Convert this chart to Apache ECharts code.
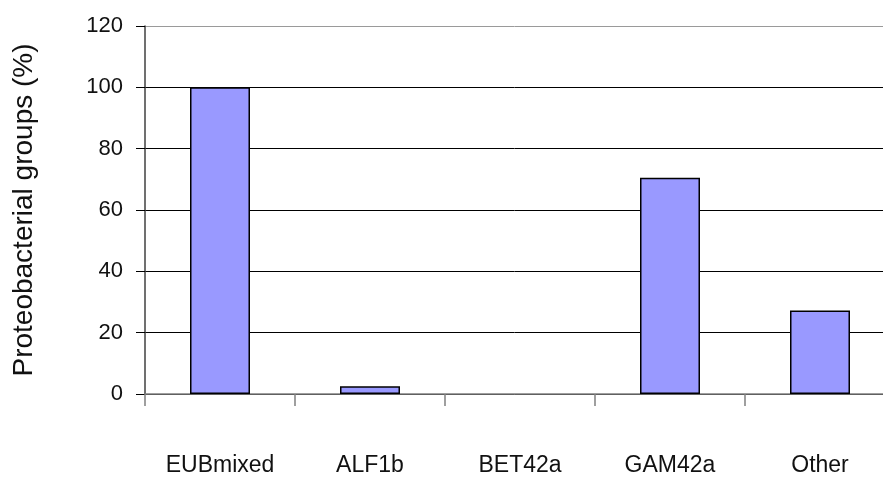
<!DOCTYPE html>
<html>
<head>
<meta charset="utf-8">
<script src="https://cdn.jsdelivr.net/npm/echarts@6/dist/echarts.min.js"></script>
<style>
html,body{margin:0;padding:0;background:#fff;}
#chart{width:883px;height:477px;}
</style>
</head>
<body>
<div id="chart"></div>
<script>
// Probe groups and their share of proteobacterial cells
const categories = ['EUBmixed', 'ALF1b', 'BET42a', 'GAM42a', 'Other'];
const groupPercent = [100, 2.5, 0, 70.5, 27.2];
const yTicks = [0, 20, 40, 60, 80, 100, 120];

const FONT = 'Liberation Sans, Arial, sans-serif';

// Empty groups get no outline so nothing is drawn on the baseline
const barData = groupPercent.map(v => ({
  value: v,
  itemStyle: v === 0 ? { borderWidth: 0, opacity: 0 } : undefined
}));

const chart = echarts.init(document.getElementById('chart'));
chart.setOption({
  animation: false,
  backgroundColor: '#ffffff',
  grid: {
    left: 145, width: 750, top: 26, bottom: 83,
    containLabel: false, outerBoundsMode: 'none'
  },
  xAxis: {
    type: 'category',
    data: categories,
    axisLine: { show: true, lineStyle: { color: '#808080', width: 1.5 } },
    axisTick: { show: true, alignWithLabel: false, length: 12, lineStyle: { color: '#808080', width: 1.5 } },
    axisLabel: { margin: 60, color: '#111', fontFamily: FONT, fontSize: 23 }
  },
  yAxis: {
    type: 'value',
    min: yTicks[0],
    max: yTicks[yTicks.length - 1],
    interval: 20,
    name: 'Proteobacterial groups (%)',
    nameLocation: 'middle',
    nameGap: 107,
    nameRotate: 90,
    nameTextStyle: { color: '#111', fontFamily: FONT, fontSize: 28 },
    axisLine: { show: true, lineStyle: { color: '#404040', width: 1.5 } },
    axisTick: { show: true, inside: false, length: 9, lineStyle: { color: '#000', width: 1 } },
    axisLabel: { margin: 22, color: '#111', fontFamily: FONT, fontSize: 22 },
    splitLine: {
      show: true,
      lineStyle: {
        color: ['#000000', '#000000', '#000000', '#000000', '#000000', '#000000', '#9a9a9a'],
        width: 1
      }
    }
  },
  series: [{
    type: 'bar',
    data: barData,
    barWidth: '40%',
    itemStyle: { color: '#9999ff', borderColor: '#000000', borderWidth: 1.5 }
  }]
});
</script>
</body>
</html>
